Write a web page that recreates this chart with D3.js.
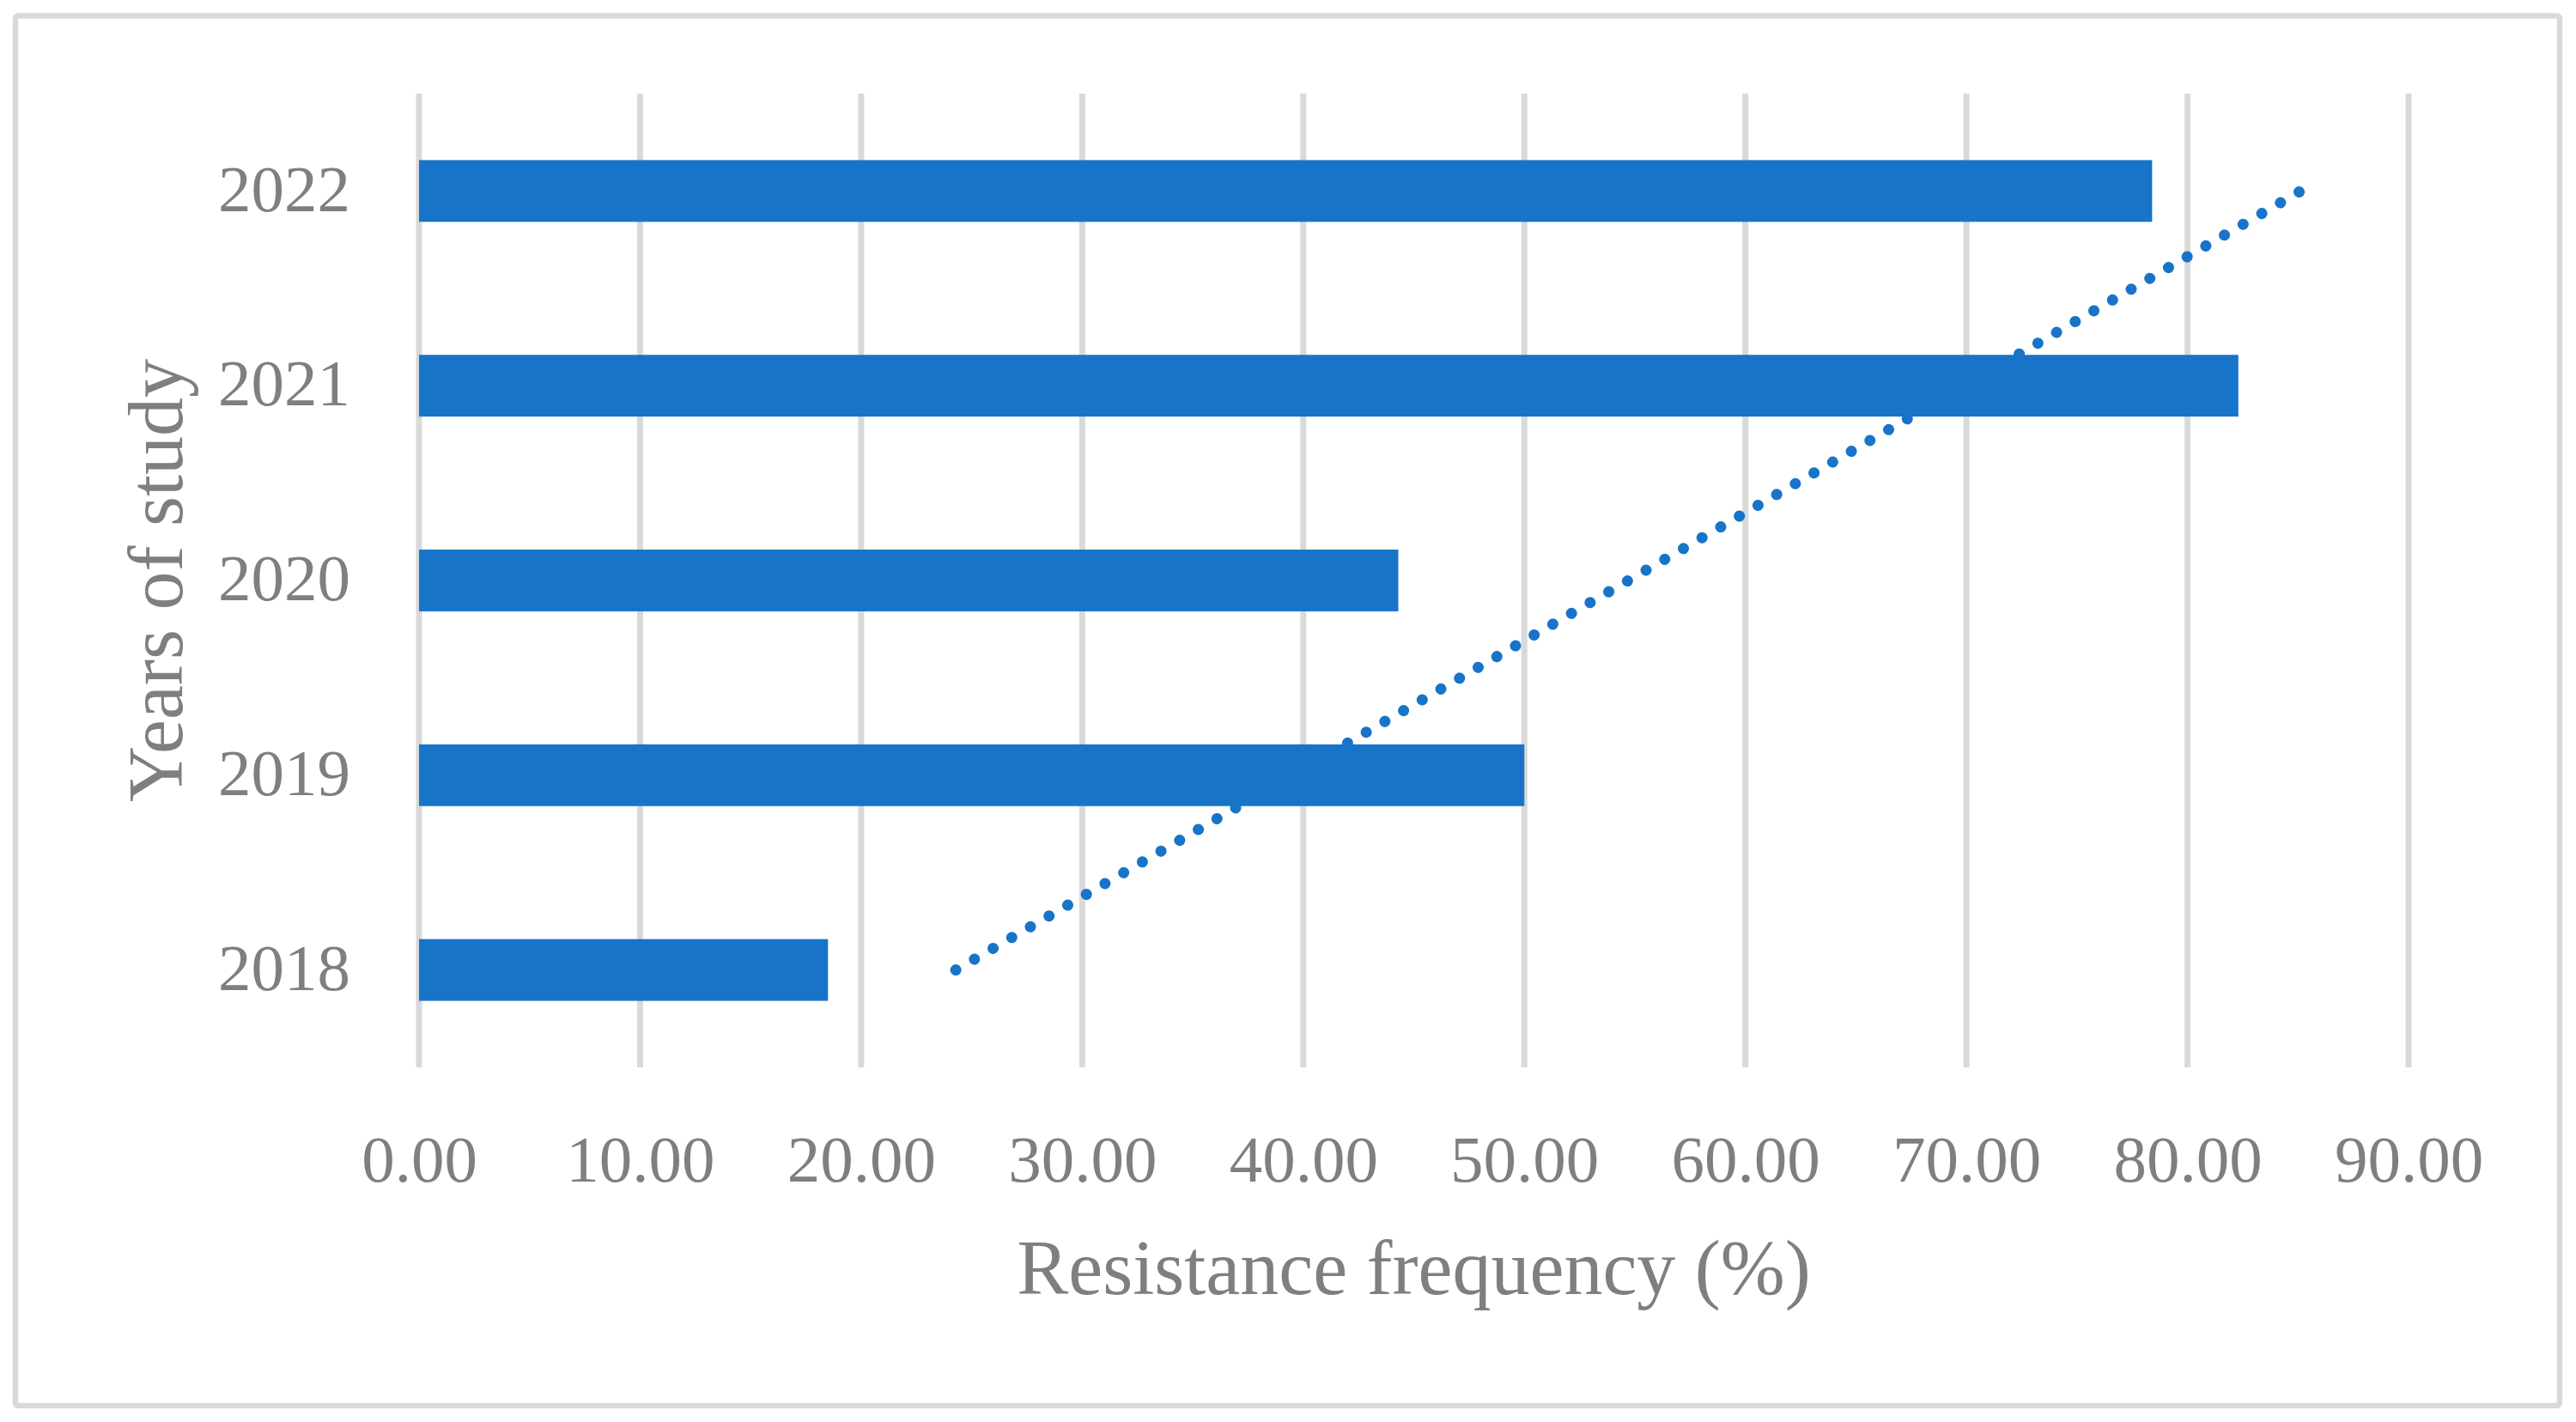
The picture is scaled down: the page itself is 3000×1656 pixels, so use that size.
<!DOCTYPE html>
<html>
<head>
<meta charset="utf-8">
<script src="https://cdn.jsdelivr.net/npm/d3@7"></script>
<style>
  html, body { margin: 0; padding: 0; background: #ffffff; }
  svg { display: block; }
</style>
</head>
<body>
<script>
// ---- data ----
const years = ["2018", "2019", "2020", "2021", "2022"];
const resistance = [18.5, 50.0, 44.3, 82.3, 78.4];
const xTicks = [0, 10, 20, 30, 40, 50, 60, 70, 80, 90];
const xTitle = "Resistance frequency (%)";
const yTitle = "Years of study";

// ---- layout ----
const W = 3000, H = 1656;
const plot = { left: 488, right: 2805, top: 109, bottom: 1243 };
const textColor = "#7f7f7f";
const gridColor = "#d9d9d9";
const barColor = "#1874c8";
const fontFamily = "'Liberation Serif', 'Times New Roman', serif";

const svg = d3.select("body").append("svg")
  .attr("width", W).attr("height", H);

// outer border
svg.append("rect")
  .attr("x", 18).attr("y", 18.5)
  .attr("width", 2981 - 18).attr("height", 1637 - 18.5)
  .attr("rx", 3)
  .attr("fill", "#fff")
  .attr("stroke", gridColor)
  .attr("stroke-width", 6.5);

const x = d3.scaleLinear().domain([0, 90]).range([plot.left, plot.right]);
const pad = 0.683;
const y = d3.scaleBand()
  .domain(years.slice().reverse())
  .range([plot.top, plot.bottom])
  .paddingInner(pad)
  .paddingOuter(pad / 2);

// gridlines
svg.append("g").selectAll("line")
  .data(xTicks)
  .join("line")
  .attr("x1", d => x(d)).attr("x2", d => x(d))
  .attr("y1", plot.top).attr("y2", plot.bottom)
  .attr("stroke", gridColor)
  .attr("stroke-width", 7);

// x tick labels via d3 axis
const xAxis = d3.axisBottom(x)
  .tickValues(xTicks)
  .tickFormat(d3.format(".2f"))
  .tickSize(0)
  .tickPadding(0);
const gx = svg.append("g")
  .attr("transform", `translate(0, ${1376})`)
  .call(xAxis);
gx.select(".domain").remove();
gx.selectAll("text")
  .attr("y", 0).attr("dy", 0)
  .attr("fill", textColor)
  .attr("font-family", fontFamily)
  .attr("font-size", 77);

// y tick labels via d3 axis
const yAxis = d3.axisLeft(y).tickSize(0).tickPadding(0);
const gy = svg.append("g")
  .attr("transform", `translate(${408}, 0)`)
  .call(yAxis);
gy.select(".domain").remove();
gy.selectAll("text")
  .attr("x", 0).attr("dy", "0.3em")
  .attr("fill", textColor)
  .attr("font-family", fontFamily)
  .attr("font-size", 77);

// bars
svg.append("g").selectAll("rect")
  .data(years.map((yr, i) => ({ yr, v: resistance[i] })))
  .join("rect")
  .attr("x", x(0))
  .attr("y", d => y(d.yr))
  .attr("width", d => x(d.v) - x(0))
  .attr("height", y.bandwidth())
  .attr("fill", barColor);

// linear trendline (least squares over category index)
const n = years.length;
const idx = d3.range(1, n + 1);
const mx = d3.mean(idx), my = d3.mean(resistance);
const slope = d3.sum(idx.map((t, i) => (t - mx) * (resistance[i] - my))) /
              d3.sum(idx.map(t => (t - mx) * (t - mx)));
const icpt = my - slope * mx;
const trend = years.map((yr, i) => ({ yr, v: icpt + slope * (i + 1) }));
const line = d3.line()
  .x(d => x(d.v))
  .y(d => y(d.yr) + y.bandwidth() / 2);
svg.append("path")
  .datum([trend[0], trend[n - 1]])
  .attr("d", line)
  .attr("fill", "none")
  .attr("stroke", barColor)
  .attr("stroke-width", 13)
  .attr("stroke-linecap", "round")
  .attr("stroke-dasharray", "0.01 25.1");

// axis titles
svg.append("text")
  .attr("x", (plot.left + plot.right) / 2)
  .attr("y", 1507)
  .attr("text-anchor", "middle")
  .attr("fill", textColor)
  .attr("font-family", fontFamily)
  .attr("font-size", 90)
  .text(xTitle);

svg.append("text")
  .attr("transform", `translate(${212}, ${(plot.top + plot.bottom) / 2}) rotate(-90)`)
  .attr("text-anchor", "middle")
  .attr("fill", textColor)
  .attr("font-family", fontFamily)
  .attr("font-size", 90)
  .text(yTitle);
</script>
</body>
</html>
